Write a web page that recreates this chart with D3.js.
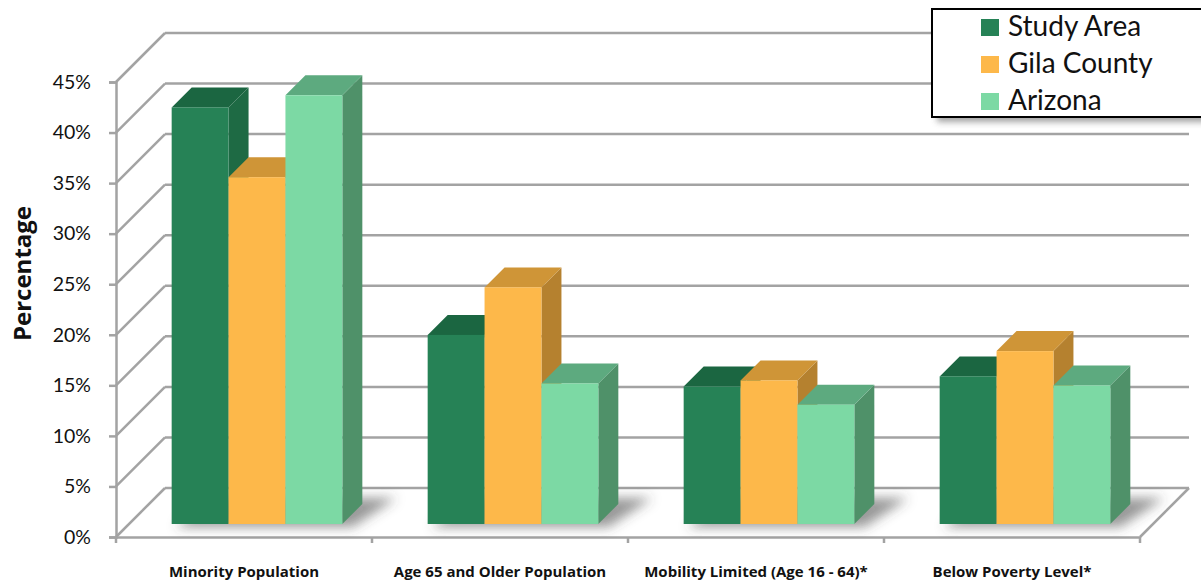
<!DOCTYPE html>
<html>
<head>
<meta charset="utf-8">
<script src="https://cdn.jsdelivr.net/npm/d3@7"></script>
<style>
  html, body { margin: 0; padding: 0; background: #fff; }
  svg { display: block; }
</style>
</head>
<body>
<svg id="chart" width="1201" height="582"></svg>
<script>
const categories = ["Minority Population", "Age 65 and Older Population", "Mobility Limited (Age 16 - 64)*", "Below Poverty Level*"];
const series = ["Study Area", "Gila County", "Arizona"];
const studyArea = [41.2, 18.7, 13.6, 14.6];
const gilaCounty = [34.3, 23.4, 14.2, 17.1];
const arizona = [42.4, 13.9, 11.8, 13.7];
const yTicks = [0, 5, 10, 15, 20, 25, 30, 35, 40, 45];
const yTitle = "Percentage";

const seriesValues = [studyArea, gilaCounty, arizona];
const colors = {
  "Study Area": { front: "#268256", top: "#1b6641", side: "#1e6a44" },
  "Gila County": { front: "#fdb84a", top: "#cf9537", side: "#b5812f" },
  "Arizona": { front: "#7cd9a4", top: "#5daa7f", side: "#4f9169" }
};

const svg = d3.select("#chart");
const defs = svg.append("defs");
defs.append("filter").attr("id", "blur").attr("x", "-50%").attr("y", "-50%").attr("width", "200%").attr("height", "200%")
  .append("feGaussianBlur").attr("stdDeviation", 6);
defs.append("filter").attr("id", "lblur").attr("x", "-20%").attr("y", "-20%").attr("width", "140%").attr("height", "140%")
  .append("feGaussianBlur").attr("stdDeviation", 3);

const x0 = d3.scaleBand().domain(categories).range([116, 1140]).paddingInner(0).paddingOuter(0);
const x1 = d3.scaleBand().domain(series).range([0, x0.bandwidth()]).paddingInner(0).paddingOuter(0.75);
const y = d3.scaleLinear().domain([0, 45]).range([537, 82]);

const DX = 49, DY = -49;       // full depth of the plot box
const F = 13, B = 20;          // bar front offset and bar depth
const grid = "#a3a3a3";
const fontFam = "Lato, 'Open Sans', 'Noto Sans', sans-serif";
const boldFam = "'Open Sans', 'Noto Sans', sans-serif";

const xL = x0.range()[0], xR = x0.range()[1];

// back wall gridlines
svg.append("g").selectAll("line").data(yTicks).join("line")
  .attr("x1", xL + DX).attr("x2", xR + DX)
  .attr("y1", d => y(d) + DY).attr("y2", d => y(d) + DY)
  .attr("stroke", grid).attr("stroke-width", 2.5);

// left wall diagonals
svg.append("g").selectAll("line").data(yTicks).join("line")
  .attr("x1", xL).attr("x2", xL + DX)
  .attr("y1", d => y(d)).attr("y2", d => y(d) + DY)
  .attr("stroke", grid).attr("stroke-width", 2.5);

// floor right edge
svg.append("line")
  .attr("x1", xR).attr("y1", y(0)).attr("x2", xR + DX).attr("y2", y(0) + DY)
  .attr("stroke", grid).attr("stroke-width", 2.5);

// y axis (front)
const yAxis = d3.axisLeft(y).tickValues(yTicks).tickFormat(d => d + "%").tickSize(7).tickPadding(18);
const gy = svg.append("g").attr("transform", `translate(${xL},0)`).call(yAxis);
gy.select(".domain").attr("stroke", grid).attr("stroke-width", 2.5);
gy.selectAll(".tick line").attr("stroke", grid).attr("stroke-width", 2.5);
gy.selectAll(".tick text").attr("font-family", fontFam).attr("font-size", 19.5).attr("fill", "#111");

// x axis (front)
const xAxis = d3.axisBottom(x0).tickSize(0).tickPadding(29);
const gx = svg.append("g").attr("transform", `translate(0,${y(0)})`).call(xAxis);
gx.select(".domain").attr("stroke", grid).attr("stroke-width", 2.5);
gx.selectAll(".tick text").attr("font-family", boldFam).attr("font-size", 15).attr("font-weight", "bold").attr("fill", "#111");
// boundary ticks
const bounds = categories.map(c => x0(c)).concat([xR]);
svg.append("g").selectAll("line").data(bounds).join("line")
  .attr("x1", d => d).attr("x2", d => d).attr("y1", y(0)).attr("y2", y(0) + 6)
  .attr("stroke", grid).attr("stroke-width", 2.5);

// y title
svg.append("text")
  .attr("transform", `translate(31,${(y(0) + y(45)) / 2 - 36}) rotate(-90)`)
  .attr("text-anchor", "middle")
  .attr("font-family", boldFam).attr("font-size", 24).attr("font-weight", "bold").attr("fill", "#111")
  .text(yTitle);

// bar shadows
const shadowG = svg.append("g").attr("filter", "url(#blur)");
categories.forEach((c, i) => {
  const xs = x0(c) + F + x1(series[0]);
  const xe = x0(c) + F + x1(series[2]) + x1.bandwidth();
  const yb = y(0) - F;
  shadowG.append("polygon")
    .attr("points", [[xs + 4, yb + 3], [xe + 10, yb + 3], [xe + B + 34, yb - B - 6], [xs + B + 20, yb - B - 6]].map(p => p.join(",")).join(" "))
    .attr("fill", "#444").attr("opacity", 0.55);
});

// bars
const barG = svg.append("g");
categories.forEach((c, i) => {
  series.forEach((s, j) => {
    const v = seriesValues[j][i];
    const xf = x0(c) + F + x1(s);
    const w = x1.bandwidth();
    const yt = y(v) - F;
    const yb = y(0) - F;
    const col = colors[s];
    const g = barG.append("g");
    g.append("polygon")
      .attr("points", [[xf + w, yt], [xf + w + B, yt - B], [xf + w + B, yb - B], [xf + w, yb]].map(p => p.join(",")).join(" "))
      .attr("fill", col.side);
    g.append("polygon")
      .attr("points", [[xf, yt], [xf + B, yt - B], [xf + w + B, yt - B], [xf + w, yt]].map(p => p.join(",")).join(" "))
      .attr("fill", col.top);
    g.append("rect")
      .attr("x", xf).attr("y", yt).attr("width", w).attr("height", yb - yt)
      .attr("fill", col.front);
  });
});

// legend
const lg = svg.append("g");
lg.append("rect").attr("x", 937).attr("y", 14).attr("width", 300).attr("height", 108)
  .attr("fill", "#666").attr("opacity", 0.6).attr("filter", "url(#lblur)");
lg.append("rect").attr("x", 932).attr("y", 9).attr("width", 300).attr("height", 108)
  .attr("fill", "#fff").attr("stroke", "#000").attr("stroke-width", 2);
series.forEach((s, j) => {
  const yy = 19 + j * 37;
  lg.append("rect").attr("x", 981).attr("y", yy).attr("width", 18).attr("height", 17).attr("fill", colors[s].front);
  lg.append("text").attr("x", 1008).attr("y", yy + 17)
    .attr("font-family", fontFam).attr("font-size", 28).attr("fill", "#111").text(s);
});
</script>
</body>
</html>
